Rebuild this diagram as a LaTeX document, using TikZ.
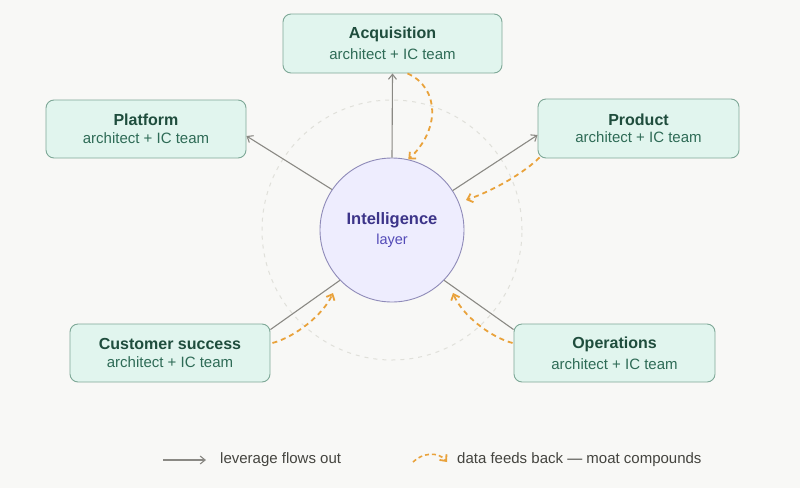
\documentclass[tikz,border=0pt]{standalone}
\usepackage{fontspec}
\setmainfont{Liberation Sans}
\usetikzlibrary{arrows.meta,calc}
\definecolor{bgc}{HTML}{F8F8F6}
\definecolor{boxfill}{HTML}{E1F5EE}
\definecolor{boxdraw}{HTML}{7EA897}
\definecolor{titlec}{HTML}{1F4D3D}
\definecolor{subc}{HTML}{2E6B56}
\definecolor{circfill}{HTML}{EEEDFE}
\definecolor{circdraw}{HTML}{8E8AB8}
\definecolor{intc}{HTML}{3C3489}
\definecolor{layc}{HTML}{534AB7}
\definecolor{levc}{HTML}{8A8984}
\definecolor{orc}{HTML}{E9A23B}
\definecolor{ringc}{HTML}{E0E0DA}
\definecolor{legc}{HTML}{44443F}
\tikzset{
  teambox/.style={draw=boxdraw, line width=0.9pt, fill=boxfill, rounded corners=8pt,
    align=center, inner sep=0pt, minimum height=58pt},
  core/.style={circle, draw=circdraw, line width=0.9pt, fill=circfill, minimum size=144pt,
    align=center, inner sep=0pt},
  ring/.style={circle, draw=ringc, line width=1pt, dash pattern=on 4pt off 5pt, minimum size=260pt, inner sep=0pt},
  lev/.style={draw=levc, line width=1.1pt, -{Straight Barb[length=5pt,width=8pt]}},
  levplain/.style={draw=levc, line width=1.1pt},
  feed/.style={draw=orc, line width=1.8pt, dash pattern=on 5pt off 4pt,
    -{Straight Barb[length=5pt,width=9pt,line width=1.8pt]}},
  legtext/.style={anchor=west, font=\fontsize{15pt}{17pt}\selectfont, text=legc, inner sep=0pt}
}
\newcommand{\teamlabel}[1]{{\fontsize{16pt}{19pt}\selectfont\bfseries\color{titlec}#1}\\[5.5pt]{\fontsize{15pt}{17pt}\selectfont\color{subc}architect + IC team}}
\begin{document}
\begin{tikzpicture}[x=1pt,y=-1pt]
\fill[bgc] (0,0) rectangle (800,488);
\useasboundingbox (0,0) rectangle (800,488);

\node[ring] (ring) at (392,230) {};
\node[core] (core) at (392,230) {{\fontsize{16.5pt}{19pt}\selectfont\bfseries\color{intc}Intelligence}\\[5.5pt]{\fontsize{14.5pt}{17pt}\selectfont\color{layc}layer}};

\node[teambox, minimum width=219pt, minimum height=59pt] (acq) at (392.5,43.5) {\teamlabel{Acquisition}};
\node[teambox, minimum width=200pt] (plat) at (146,129) {\teamlabel{Platform}};
\node[teambox, minimum width=201pt, minimum height=59pt] (prod) at (638.5,128.5) {\teamlabel{Product}};
\node[teambox, minimum width=200pt] (cust) at (170,353) {\teamlabel{Customer success}};
\node[teambox, minimum width=201pt] (ops) at (614.5,353) {\teamlabel{Operations}};

% leverage flows out
\draw[lev] (core.90) -- (acq.south);
\draw[lev] (core.146.5) -- ($(plat.east)+(0,7)$);
\draw[lev] (core.33.7) -- ($(prod.west)+(0,6.5)$);
\draw[levplain] (core.224.4) -- ($(cust.north east)+(0,6)$);
\draw[levplain] (core.316) -- ($(ops.north west)+(0,6)$);

% data feeds back
\draw[feed] ($(acq.south)+(15,0)$) .. controls (440,88) and (440,130) .. (core.77);
\draw[feed] ($(prod.south west)+(2,-1)$) .. controls (525,172) and (495,190) .. (466,200);
\draw[feed] ($(cust.east)+(2,-10)$) .. controls (295,337) and (323,315) .. (333,293);
\draw[feed] ($(ops.west)+(-1,-10)$) .. controls (490,337) and (462,315) .. (453,293);

% legend
\coordinate (l1a) at (163,460);
\coordinate (l1b) at (206,460);
\draw[lev] (l1a) -- (l1b);
\node[legtext] (l1t) at (220,460) {leverage flows out};
\coordinate (l2a) at (413,462);
\coordinate (l2b) at (447,462);
\draw[feed, line width=1.6pt, dash pattern=on 4pt off 3pt] (l2a) .. controls (422,453) and (438,451) .. (l2b);
\node[legtext] (l2t) at (457,460) {data feeds back — moat compounds};
\end{tikzpicture}
\end{document}
